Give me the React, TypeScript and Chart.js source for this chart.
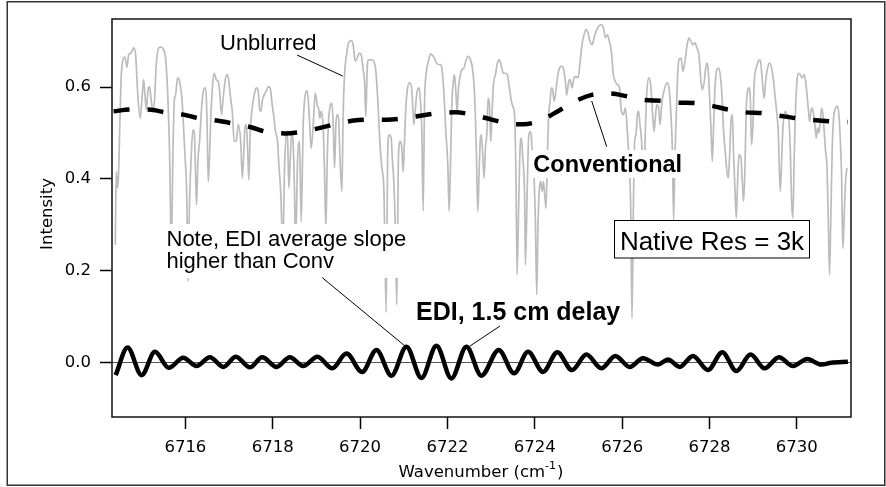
import React, { useEffect, useRef } from "react";
import { Chart, registerables } from "chart.js";

Chart.register(...registerables);

// [wavenumber (cm^-1), intensity]
const unblurredPoints: [number, number][] = [
  [6714.395, 0.257], [6714.418, 0.416], [6714.449, 0.38], [6714.472, 0.416], [6714.525, 0.612],
  [6714.571, 0.659], [6714.617, 0.665], [6714.662, 0.643], [6714.701, 0.67], [6714.754, 0.674],
  [6714.815, 0.685], [6714.861, 0.67], [6714.906, 0.591], [6714.967, 0.532], [6715.013, 0.583],
  [6715.044, 0.616], [6715.074, 0.583], [6715.105, 0.551], [6715.151, 0.598], [6715.181, 0.601],
  [6715.212, 0.576], [6715.242, 0.554], [6715.273, 0.547], [6715.334, 0.649], [6715.387, 0.685],
  [6715.44, 0.687], [6715.501, 0.681], [6715.547, 0.663], [6715.593, 0.591], [6715.639, 0.453],
  [6715.677, 0.25], [6715.715, 0.453], [6715.746, 0.569], [6715.776, 0.583], [6715.822, 0.62],
  [6715.868, 0.612], [6715.913, 0.583], [6715.944, 0.54], [6715.99, 0.453], [6716.035, 0.351],
  [6716.058, 0.177], [6716.096, 0.351], [6716.142, 0.467], [6716.173, 0.507], [6716.203, 0.503],
  [6716.234, 0.409], [6716.257, 0.344], [6716.287, 0.438], [6716.325, 0.482], [6716.371, 0.554],
  [6716.417, 0.594], [6716.463, 0.598], [6716.493, 0.54], [6716.524, 0.394], [6716.554, 0.453],
  [6716.585, 0.54], [6716.63, 0.612], [6716.661, 0.63], [6716.707, 0.616], [6716.752, 0.612],
  [6716.783, 0.591], [6716.829, 0.54], [6716.859, 0.569], [6716.89, 0.598], [6716.92, 0.62],
  [6716.966, 0.627], [6716.996, 0.612], [6717.027, 0.583], [6717.073, 0.547], [6717.119, 0.482],
  [6717.164, 0.482], [6717.21, 0.518], [6717.271, 0.474], [6717.302, 0.402], [6717.332, 0.445],
  [6717.363, 0.511], [6717.393, 0.518], [6717.424, 0.467], [6717.454, 0.398], [6717.485, 0.503],
  [6717.53, 0.554], [6717.576, 0.583], [6717.622, 0.598], [6717.668, 0.591], [6717.698, 0.554],
  [6717.729, 0.547], [6717.759, 0.569], [6717.805, 0.583], [6717.851, 0.591], [6717.897, 0.601],
  [6717.942, 0.598], [6717.988, 0.561], [6718.019, 0.54], [6718.064, 0.503], [6718.11, 0.482],
  [6718.141, 0.431], [6718.186, 0.365], [6718.232, 0.249], [6718.27, 0.424], [6718.308, 0.496],
  [6718.339, 0.489], [6718.37, 0.38], [6718.4, 0.438], [6718.43, 0.496], [6718.461, 0.489],
  [6718.499, 0.373], [6718.522, 0.249], [6718.568, 0.438], [6718.614, 0.482], [6718.652, 0.307],
  [6718.698, 0.518], [6718.744, 0.583], [6718.79, 0.592], [6718.835, 0.54], [6718.881, 0.467],
  [6718.927, 0.518], [6718.973, 0.587], [6719.018, 0.561], [6719.049, 0.554], [6719.079, 0.532],
  [6719.11, 0.547], [6719.156, 0.511], [6719.186, 0.416], [6719.217, 0.293], [6719.247, 0.438],
  [6719.278, 0.525], [6719.324, 0.561], [6719.354, 0.565], [6719.385, 0.518], [6719.415, 0.424],
  [6719.446, 0.518], [6719.476, 0.54], [6719.507, 0.532], [6719.537, 0.453], [6719.583, 0.373],
  [6719.613, 0.54], [6719.644, 0.627], [6719.69, 0.67], [6719.735, 0.696], [6719.796, 0.701],
  [6719.842, 0.692], [6719.888, 0.656], [6719.934, 0.663], [6719.98, 0.674], [6720.025, 0.67],
  [6720.071, 0.638], [6720.102, 0.612], [6720.132, 0.536], [6720.163, 0.641], [6720.193, 0.659],
  [6720.254, 0.659], [6720.315, 0.656], [6720.361, 0.634], [6720.407, 0.569], [6720.452, 0.482],
  [6720.498, 0.424], [6720.544, 0.38], [6720.597, 0.11], [6720.635, 0.467], [6720.666, 0.496],
  [6720.712, 0.489], [6720.742, 0.438], [6720.773, 0.394], [6720.803, 0.307], [6720.841, 0.126],
  [6720.88, 0.453], [6720.925, 0.482], [6720.956, 0.467], [6720.986, 0.416], [6721.017, 0.482],
  [6721.047, 0.554], [6721.078, 0.591], [6721.124, 0.609], [6721.169, 0.605], [6721.2, 0.569],
  [6721.23, 0.518], [6721.261, 0.547], [6721.307, 0.591], [6721.353, 0.598], [6721.383, 0.569],
  [6721.414, 0.5], [6721.444, 0.33], [6721.475, 0.561], [6721.52, 0.634], [6721.566, 0.656],
  [6721.612, 0.672], [6721.658, 0.669], [6721.703, 0.663], [6721.749, 0.652], [6721.795, 0.649],
  [6721.841, 0.649], [6721.871, 0.641], [6721.917, 0.591], [6721.963, 0.503], [6722.009, 0.431],
  [6722.039, 0.33], [6722.07, 0.431], [6722.1, 0.561], [6722.131, 0.609], [6722.161, 0.627],
  [6722.192, 0.591], [6722.222, 0.547], [6722.253, 0.598], [6722.298, 0.627], [6722.329, 0.638],
  [6722.375, 0.641], [6722.42, 0.656], [6722.466, 0.667], [6722.512, 0.663], [6722.558, 0.649],
  [6722.604, 0.612], [6722.634, 0.554], [6722.664, 0.453], [6722.695, 0.329], [6722.726, 0.416],
  [6722.756, 0.489], [6722.779, 0.496], [6722.84, 0.402], [6722.87, 0.467], [6722.901, 0.496],
  [6722.931, 0.576], [6722.962, 0.561], [6722.992, 0.482], [6723.023, 0.547], [6723.053, 0.605],
  [6723.099, 0.627], [6723.145, 0.652], [6723.19, 0.659], [6723.236, 0.645], [6723.282, 0.63],
  [6723.328, 0.63], [6723.373, 0.627], [6723.419, 0.598], [6723.465, 0.569], [6723.496, 0.558],
  [6723.541, 0.532], [6723.572, 0.38], [6723.595, 0.191], [6723.633, 0.351], [6723.663, 0.467],
  [6723.694, 0.489], [6723.724, 0.445], [6723.77, 0.351], [6723.785, 0.213], [6723.831, 0.394],
  [6723.862, 0.496], [6723.907, 0.503], [6723.938, 0.467], [6723.968, 0.438], [6724.014, 0.307],
  [6724.045, 0.148], [6724.075, 0.307], [6724.106, 0.38], [6724.136, 0.394], [6724.167, 0.373],
  [6724.197, 0.394], [6724.228, 0.365], [6724.258, 0.336], [6724.289, 0.453], [6724.319, 0.54],
  [6724.35, 0.569], [6724.38, 0.598], [6724.411, 0.594], [6724.441, 0.569], [6724.472, 0.583],
  [6724.518, 0.62], [6724.563, 0.641], [6724.609, 0.645], [6724.655, 0.641], [6724.701, 0.612],
  [6724.731, 0.583], [6724.777, 0.612], [6724.807, 0.616], [6724.853, 0.598], [6724.899, 0.62],
  [6724.945, 0.623], [6724.991, 0.62], [6725.036, 0.652], [6725.082, 0.692], [6725.128, 0.714],
  [6725.174, 0.725], [6725.219, 0.718], [6725.265, 0.699], [6725.311, 0.692], [6725.357, 0.707],
  [6725.402, 0.721], [6725.463, 0.732], [6725.524, 0.736], [6725.57, 0.729], [6725.616, 0.707],
  [6725.662, 0.714], [6725.708, 0.699], [6725.753, 0.678], [6725.799, 0.627], [6725.845, 0.612],
  [6725.891, 0.605], [6725.936, 0.601], [6725.982, 0.547], [6726.028, 0.54], [6726.074, 0.554],
  [6726.119, 0.503], [6726.165, 0.424], [6726.196, 0.336], [6726.226, 0.097], [6726.257, 0.336],
  [6726.287, 0.482], [6726.318, 0.496], [6726.348, 0.54], [6726.379, 0.547], [6726.409, 0.518],
  [6726.44, 0.489], [6726.47, 0.438], [6726.501, 0.402], [6726.531, 0.503], [6726.562, 0.583],
  [6726.608, 0.62], [6726.653, 0.605], [6726.699, 0.54], [6726.73, 0.503], [6726.76, 0.532],
  [6726.791, 0.561], [6726.837, 0.554], [6726.867, 0.518], [6726.913, 0.569], [6726.959, 0.591],
  [6727.027, 0.609], [6727.073, 0.598], [6727.118, 0.54], [6727.149, 0.467], [6727.179, 0.31],
  [6727.21, 0.453], [6727.24, 0.54], [6727.271, 0.627], [6727.301, 0.659], [6727.347, 0.663],
  [6727.393, 0.634], [6727.439, 0.656], [6727.484, 0.689], [6727.53, 0.707], [6727.576, 0.699],
  [6727.622, 0.692], [6727.667, 0.696], [6727.713, 0.685], [6727.759, 0.67], [6727.805, 0.612],
  [6727.835, 0.594], [6727.881, 0.612], [6727.912, 0.641], [6727.942, 0.652], [6727.973, 0.634],
  [6728.003, 0.576], [6728.034, 0.511], [6728.064, 0.438], [6728.095, 0.518], [6728.125, 0.598],
  [6728.171, 0.638], [6728.217, 0.641], [6728.262, 0.612], [6728.293, 0.569], [6728.323, 0.503],
  [6728.354, 0.467], [6728.4, 0.416], [6728.43, 0.402], [6728.461, 0.453], [6728.491, 0.525],
  [6728.522, 0.54], [6728.552, 0.453], [6728.583, 0.38], [6728.613, 0.315], [6728.644, 0.394],
  [6728.674, 0.453], [6728.72, 0.445], [6728.751, 0.394], [6728.781, 0.351], [6728.812, 0.424],
  [6728.842, 0.554], [6728.873, 0.591], [6728.903, 0.598], [6728.934, 0.576], [6728.964, 0.474],
  [6728.995, 0.518], [6729.025, 0.612], [6729.071, 0.641], [6729.117, 0.656], [6729.163, 0.659],
  [6729.193, 0.634], [6729.224, 0.598], [6729.254, 0.576], [6729.285, 0.612], [6729.33, 0.641],
  [6729.376, 0.652], [6729.422, 0.641], [6729.468, 0.612], [6729.498, 0.583], [6729.544, 0.54],
  [6729.574, 0.503], [6729.62, 0.373], [6729.651, 0.438], [6729.681, 0.511], [6729.712, 0.54],
  [6729.742, 0.547], [6729.773, 0.54], [6729.803, 0.54], [6729.849, 0.467], [6729.88, 0.351],
  [6729.91, 0.315], [6729.941, 0.453], [6729.971, 0.554], [6730.002, 0.612], [6730.032, 0.63],
  [6730.078, 0.627], [6730.124, 0.62], [6730.17, 0.627], [6730.215, 0.601], [6730.261, 0.554],
  [6730.292, 0.525], [6730.322, 0.547], [6730.353, 0.554], [6730.383, 0.54], [6730.413, 0.518],
  [6730.444, 0.489], [6730.474, 0.511], [6730.505, 0.5], [6730.535, 0.525], [6730.566, 0.554],
  [6730.597, 0.54], [6730.627, 0.503], [6730.658, 0.46], [6730.688, 0.431], [6730.718, 0.322],
  [6730.749, 0.191], [6730.779, 0.322], [6730.81, 0.467], [6730.841, 0.532], [6730.886, 0.554],
  [6730.932, 0.558], [6730.963, 0.54], [6730.993, 0.489], [6731.024, 0.409], [6731.054, 0.249],
  [6731.085, 0.322], [6731.115, 0.394], [6731.146, 0.424],
];

const conventionalPoints: [number, number][] = [
  [6714.357, 0.547], [6714.739, 0.551], [6715.158, 0.551], [6715.54, 0.545], [6715.959, 0.54],
  [6716.302, 0.532], [6716.722, 0.527], [6717.065, 0.521], [6717.523, 0.512], [6717.828, 0.503],
  [6718.286, 0.499], [6718.629, 0.502], [6719.087, 0.511], [6719.43, 0.519], [6719.85, 0.527],
  [6720.231, 0.529], [6720.613, 0.529], [6720.994, 0.532], [6721.414, 0.538], [6721.795, 0.543],
  [6722.176, 0.545], [6722.558, 0.54], [6723.015, 0.529], [6723.358, 0.521], [6723.74, 0.519],
  [6724.121, 0.527], [6724.541, 0.548], [6724.884, 0.567], [6725.303, 0.583], [6725.685, 0.586],
  [6726.104, 0.58], [6726.486, 0.572], [6726.905, 0.57], [6727.21, 0.566], [6727.667, 0.565],
  [6728.011, 0.56], [6728.43, 0.551], [6728.812, 0.545], [6729.231, 0.543], [6729.574, 0.538],
  [6729.994, 0.532], [6730.375, 0.528], [6730.795, 0.525], [6731.161, 0.524],
];

const ediPoints: [number, number][] = [
  [6714.403, -0.027], [6714.677, 0.033], [6714.998, -0.027], [6715.303, 0.024], [6715.623, -0.011],
  [6715.951, 0.011], [6716.256, -0.007], [6716.561, 0.012], [6716.867, -0.009], [6717.156, 0.013],
  [6717.477, -0.01], [6717.759, 0.012], [6718.087, -0.009], [6718.392, 0.012], [6718.697, -0.007],
  [6719.025, 0.013], [6719.361, -0.012], [6719.689, 0.02], [6720.047, -0.02], [6720.375, 0.028],
  [6720.719, -0.028], [6721.062, 0.035], [6721.405, -0.033], [6721.748, 0.037], [6722.092, -0.034],
  [6722.435, 0.035], [6722.778, -0.028], [6723.175, 0.028], [6723.526, -0.023], [6723.846, 0.024],
  [6724.189, -0.02], [6724.517, 0.023], [6724.853, -0.016], [6725.181, 0.018], [6725.524, -0.012],
  [6725.845, 0.015], [6726.173, -0.009], [6726.478, 0.01], [6726.821, -0.004], [6727.05, 0.007],
  [6727.317, -0.009], [6727.622, 0.015], [6727.965, -0.016], [6728.293, 0.023], [6728.614, -0.018],
  [6728.942, 0.018], [6729.262, -0.012], [6729.59, 0.012], [6729.91, -0.007], [6730.238, 0.008],
  [6730.559, -0.004], [6730.788, 0.0], [6731.169, 0.002],
];

const xTickValues = [6716, 6718, 6720, 6722, 6724, 6726, 6728, 6730];
const yTickValues = [0, 0.2, 0.4, 0.6];
const xLimits = [6714.32, 6731.24];
const yLimits = [-0.118, 0.748];

const xTitleMain = "Wavenumber (cm";
const xTitleSup = "-1";
const xTitleEnd = ")";
const yTitle = "Intensity";
const labelUnblurred = "Unblurred";
const labelConventional = "Conventional";
const labelNote = ["Note, EDI average slope", "higher than Conv"];
const labelEdi = "EDI, 1.5 cm delay";
const labelNative = "Native Res = 3k";

const W = 886;
const H = 487;
const TICK_FONT = '"DejaVu Sans"';
const ANNO_FONT = '"Liberation Sans"';

const decorPlugin = {
  id: "decor",
  afterDraw(chart: any) {
    const ctx: CanvasRenderingContext2D = chart.ctx;
    const a = chart.chartArea;
    ctx.save();

    // plot frame
    ctx.strokeStyle = "#111";
    ctx.lineWidth = 1.5;
    ctx.strokeRect(a.left, a.top, a.right - a.left, a.bottom - a.top);

    // outer figure frame
    ctx.strokeStyle = "#333";
    ctx.lineWidth = 1.5;
    ctx.strokeRect(7.25, 1.75, 877.5, 483.5);

    ctx.fillStyle = "#000";
    ctx.textBaseline = "alphabetic";

    // x title with superscript
    ctx.font = `16.5px ${TICK_FONT}`;
    const wMain = ctx.measureText(xTitleMain).width;
    const wEnd = ctx.measureText(xTitleEnd).width;
    ctx.font = `11px ${TICK_FONT}`;
    const wSup = ctx.measureText(xTitleSup).width;
    const total = wMain + wSup + wEnd + 1;
    let tx = 481 - total / 2;
    ctx.textAlign = "left";
    ctx.font = `16.5px ${TICK_FONT}`;
    ctx.fillText(xTitleMain, tx, 477);
    ctx.font = `11px ${TICK_FONT}`;
    ctx.fillText(xTitleSup, tx + wMain, 469);
    ctx.font = `16.5px ${TICK_FONT}`;
    ctx.fillText(xTitleEnd, tx + wMain + wSup + 1, 477);

    // y title
    ctx.save();
    ctx.translate(48, 214);
    ctx.rotate(-Math.PI / 2);
    ctx.textAlign = "center";
    ctx.textBaseline = "middle";
    ctx.font = `16.5px ${TICK_FONT}`;
    ctx.fillText(yTitle, 0, 0);
    ctx.restore();

    // opaque label backgrounds
    ctx.fillStyle = "#fff";
    ctx.fillRect(163, 224, 248, 54); // note
    ctx.fillRect(530, 150, 157, 28); // conventional
    ctx.fillRect(412, 297, 212, 30); // EDI

    ctx.fillStyle = "#000";
    ctx.textAlign = "left";
    ctx.textBaseline = "alphabetic";

    ctx.font = `22px ${ANNO_FONT}`;
    ctx.fillText(labelUnblurred, 220, 50);
    ctx.fillText(labelNote[0], 166.5, 246);
    ctx.fillText(labelNote[1], 166.5, 268);

    ctx.font = `bold 23.5px ${ANNO_FONT}`;
    ctx.fillText(labelConventional, 533.3, 171.7);

    ctx.font = `bold 25px ${ANNO_FONT}`;
    ctx.fillText(labelEdi, 416, 320);

    // native res box
    ctx.fillStyle = "#fff";
    ctx.fillRect(614.5, 220.5, 195, 37.5);
    ctx.strokeStyle = "#000";
    ctx.lineWidth = 1;
    ctx.strokeRect(614.5, 220.5, 195, 37.5);
    ctx.fillStyle = "#000";
    ctx.textAlign = "center";
    ctx.font = `26px ${ANNO_FONT}`;
    ctx.fillText(labelNative, 712, 249.5);

    // leader lines
    ctx.strokeStyle = "#000";
    ctx.lineWidth = 1;
    const lines = [
      [297, 55, 342.7, 76],
      [591.7, 101, 606.7, 146.7],
      [322.3, 277.7, 405, 346],
      [500, 326, 470, 346],
    ];
    for (const [x1, y1, x2, y2] of lines) {
      ctx.beginPath();
      ctx.moveTo(x1, y1);
      ctx.lineTo(x2, y2);
      ctx.stroke();
    }

    ctx.restore();
  },
};

export default function App() {
  const ref = useRef<HTMLCanvasElement>(null);

  useEffect(() => {
    const canvas = ref.current;
    if (!canvas) return;
    const toXY = (pts: [number, number][]) => pts.map(([x, y]) => ({ x, y }));

    const chart = new Chart(canvas, {
      type: "line",
      data: {
        datasets: [
          {
            label: "EDI",
            data: toXY(ediPoints),
            borderColor: "#000",
            borderWidth: 4.5,
            pointRadius: 0,
            cubicInterpolationMode: "monotone",
            borderJoinStyle: "round",
            order: 0,
          },
          {
            label: "Conventional",
            data: toXY(conventionalPoints),
            borderColor: "#000",
            borderWidth: 4.5,
            borderDash: [16, 18],
            borderCapStyle: "butt",
            pointRadius: 0,
            cubicInterpolationMode: "monotone",
            order: 1,
          },
          {
            label: "Unblurred",
            data: toXY(unblurredPoints),
            borderColor: "#bcbcbc",
            borderWidth: 1.7,
            pointRadius: 0,
            cubicInterpolationMode: "monotone",
            order: 2,
          },
        ],
      },
      options: {
        responsive: false,
        maintainAspectRatio: false,
        animation: false,
        devicePixelRatio: 1,
        events: [],
        layout: { padding: { left: 0, top: 19, right: 35, bottom: 0 } },
        plugins: {
          legend: { display: false },
          tooltip: { enabled: false },
        },
        scales: {
          x: {
            type: "linear",
            position: "bottom",
            min: xLimits[0],
            max: xLimits[1],
            afterBuildTicks: (axis: any) => {
              axis.ticks = xTickValues.map((value) => ({ value }));
            },
            afterFit: (axis: any) => {
              axis.height = 70;
            },
            border: { display: false },
            grid: {
              drawOnChartArea: false,
              drawTicks: true,
              tickLength: 12,
              tickColor: "#000",
              tickWidth: 1.5,
            },
            ticks: {
              autoSkip: false,
              maxRotation: 0,
              padding: 9,
              color: "#000",
              font: { family: TICK_FONT, size: 16.5 },
              callback: (v: any) => String(v),
            },
          },
          y: {
            type: "linear",
            min: yLimits[0],
            max: yLimits[1],
            afterBuildTicks: (axis: any) => {
              axis.ticks = yTickValues.map((value) => ({ value }));
            },
            afterFit: (axis: any) => {
              axis.width = 112;
            },
            border: { display: false },
            grid: {
              drawOnChartArea: true,
              drawTicks: true,
              tickLength: 12,
              tickColor: "#000",
              tickWidth: 1.5,
              lineWidth: 1,
              color: (c: any) => (c.tick && c.tick.value === 0 ? "#555" : "rgba(0,0,0,0)"),
            },
            ticks: {
              padding: 9,
              color: "#000",
              font: { family: TICK_FONT, size: 16.5 },
              callback: (v: any) => Number(v).toFixed(1),
            },
          },
        },
      },
      plugins: [decorPlugin],
    } as any);

    return () => chart.destroy();
  }, []);

  return (
    <div style={{ position: "absolute", left: 0, top: 0, width: W, height: H, background: "#fff" }}>
      <canvas ref={ref} width={W} height={H} style={{ display: "block", width: W, height: H }} />
    </div>
  );
}
